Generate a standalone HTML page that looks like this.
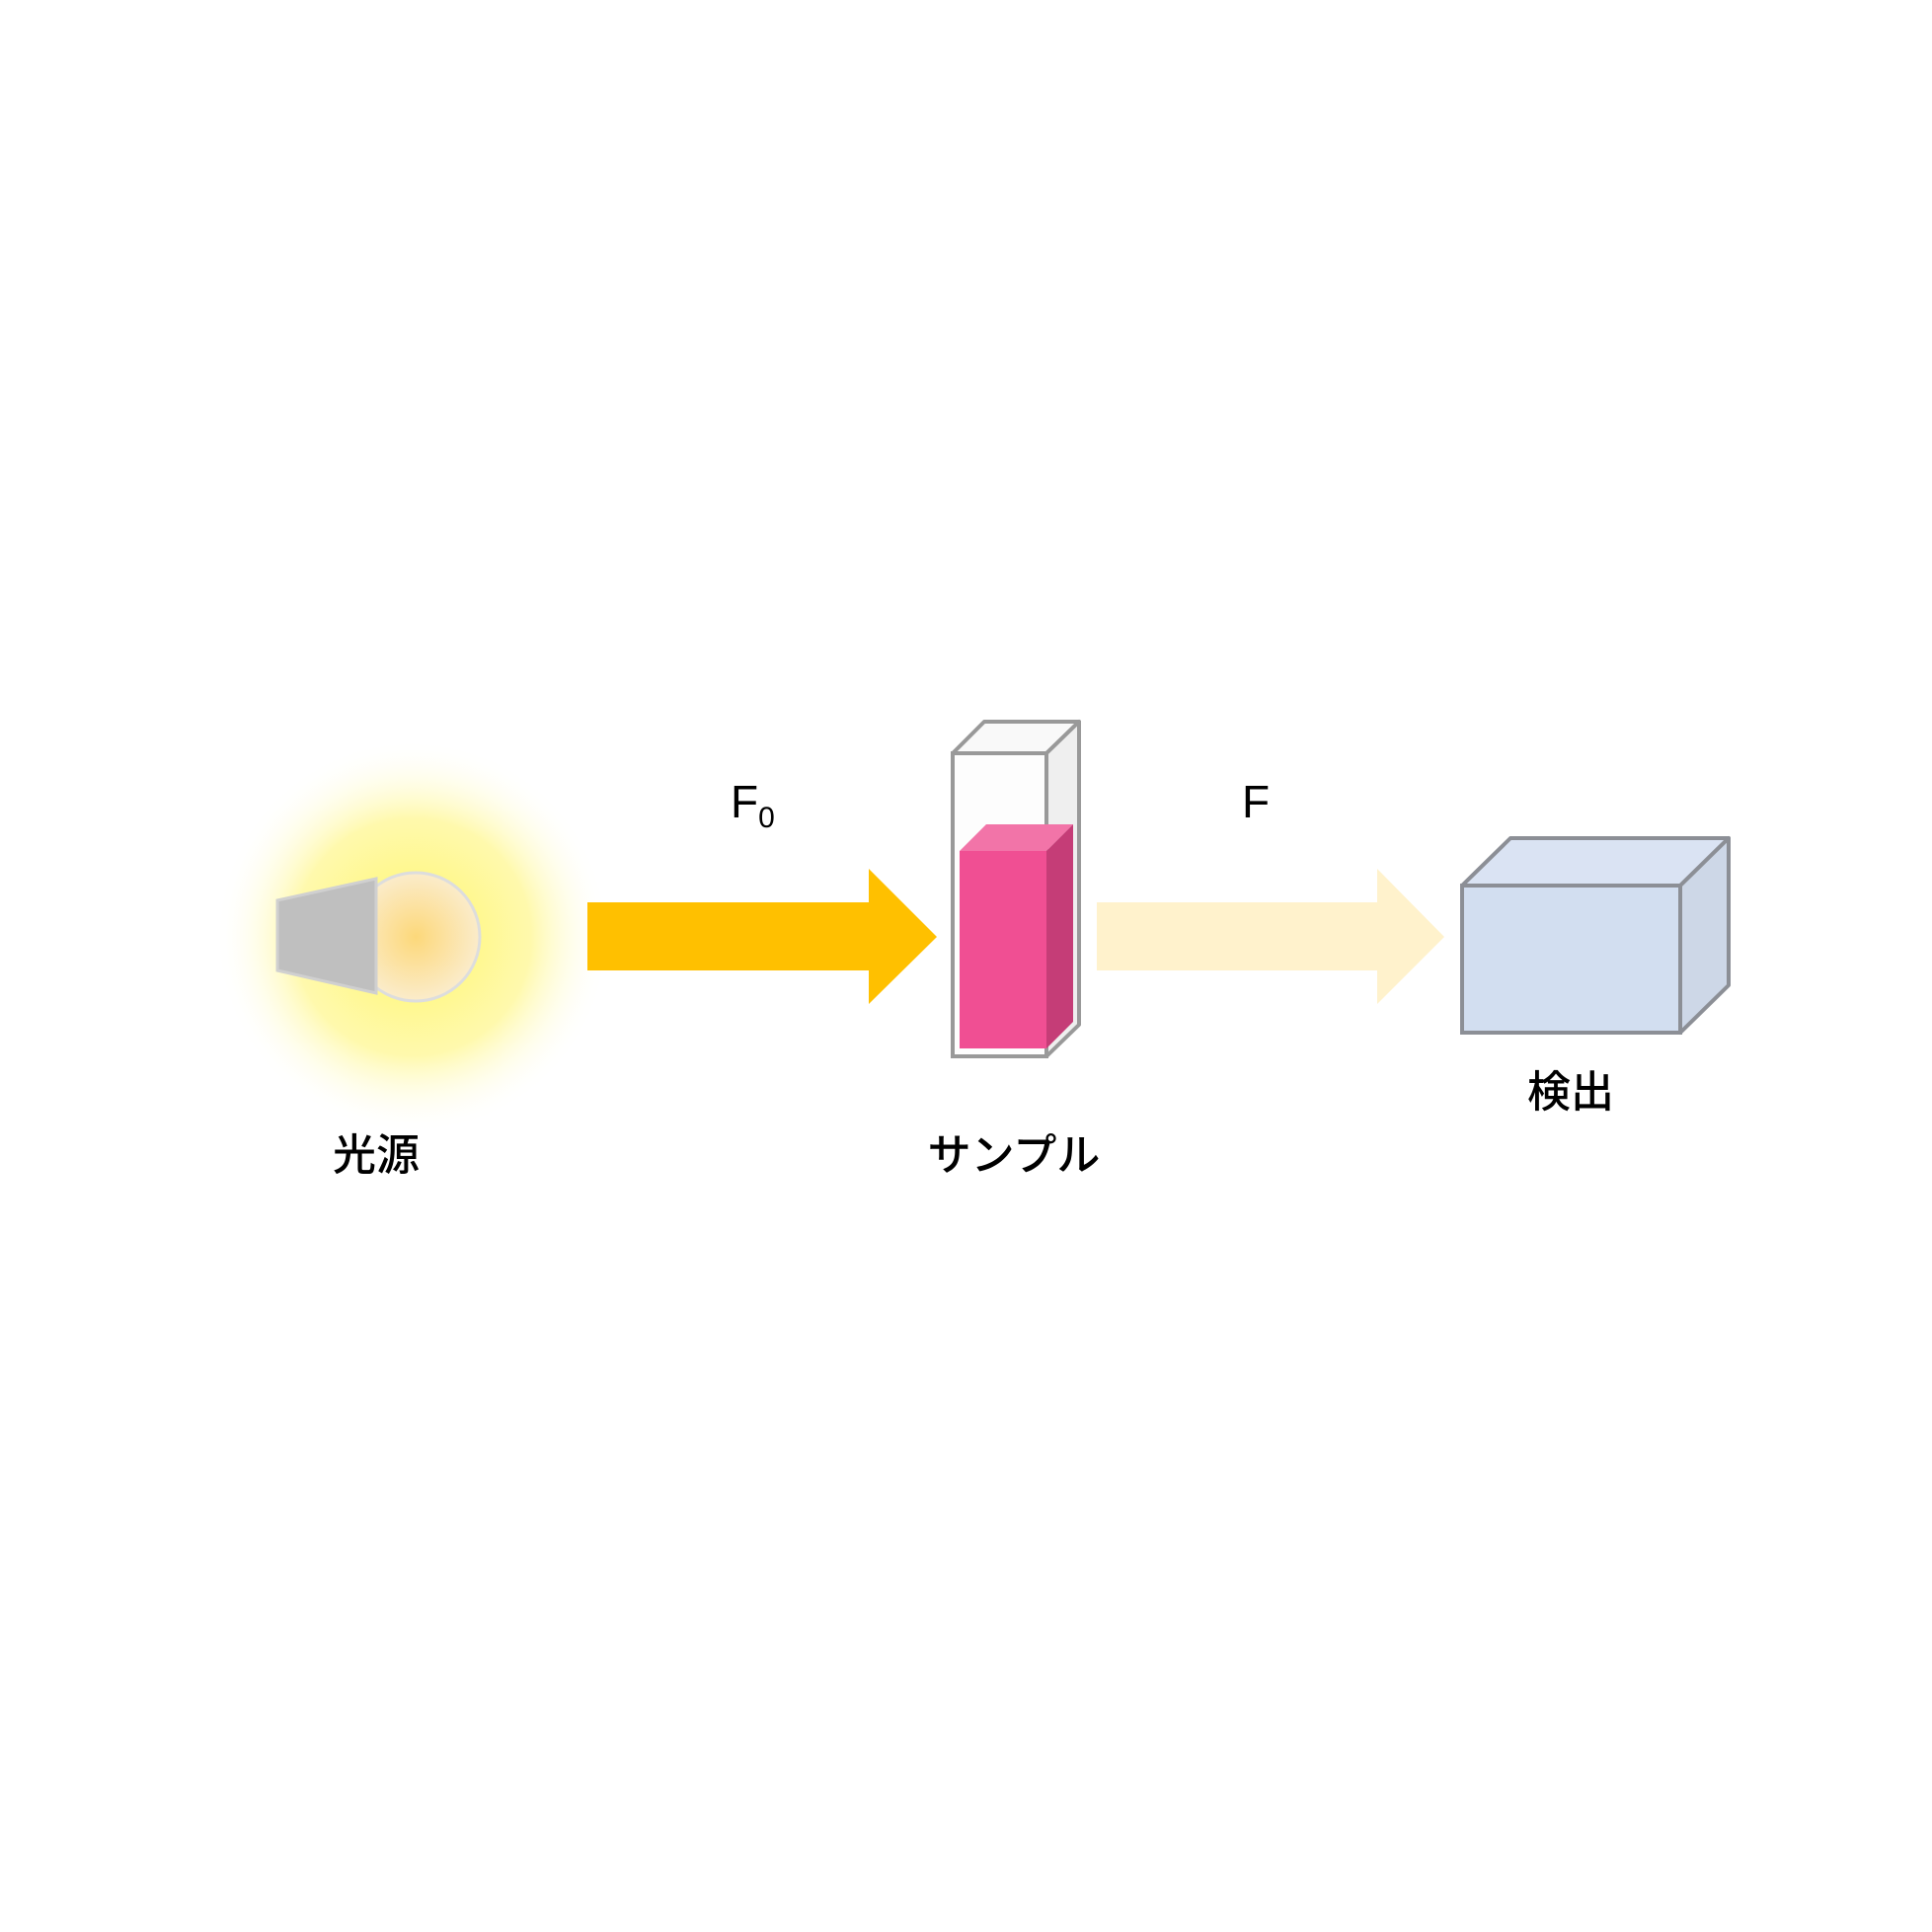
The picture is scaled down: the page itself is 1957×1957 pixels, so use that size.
<!DOCTYPE html>
<html><head><meta charset="utf-8"><style>
html,body{margin:0;padding:0;background:#fff;}
</style></head><body>
<svg width="1957" height="1952" viewBox="0 0 1957 1952" xmlns="http://www.w3.org/2000/svg">
<defs>
<radialGradient id="glow" cx="0.5" cy="0.5" r="0.5">
<stop offset="0" stop-color="#fff200" stop-opacity="0.6"/>
<stop offset="0.6" stop-color="#fff35a" stop-opacity="0.5"/>
<stop offset="1" stop-color="#ffffff" stop-opacity="0"/>
</radialGradient>
<radialGradient id="bulb" cx="0.5" cy="0.5" r="0.5">
<stop offset="0" stop-color="#fcd87a"/>
<stop offset="1" stop-color="#fbeccb"/>
</radialGradient>
</defs>
<circle cx="418" cy="949" r="200" fill="url(#glow)"/>
<circle cx="421" cy="949" r="65" fill="url(#bulb)" stroke="#ddd" stroke-width="3"/>
<polygon points="281,912 381,890 381,1006 281,983" fill="#bfbfbf" stroke="#d0d0d0" stroke-width="3"/>
<polygon points="595,914 880,914 880,880 949,949 880,1017 880,983 595,983" fill="#ffc000"/>
<polygon points="965,763 997,731 1093,731 1060,763" fill="#f9f9f9" stroke="#999" stroke-width="4" stroke-linejoin="round"/>
<polygon points="1060,763 1093,731 1093,1038 1060,1070" fill="#efefef" stroke="#999" stroke-width="4" stroke-linejoin="round"/>
<rect x="965" y="763" width="95" height="307" fill="#fdfdfd" stroke="#999" stroke-width="4"/>
<polygon points="972,862 999,835 1087,835 1060,862" fill="#f274a8"/>
<polygon points="1060,862 1087,835 1087,1035 1060,1062" fill="#c53d77"/>
<rect x="972" y="862" width="88" height="200" fill="#f04f93"/>
<polygon points="1111,914 1395,914 1395,880 1463,949 1395,1017 1395,983 1111,983" fill="#fff2cc"/>
<polygon points="1481,897 1530,849 1751,849 1702,897" fill="#dae3f3" stroke="#8c8f96" stroke-width="4" stroke-linejoin="round"/>
<polygon points="1702,897 1751,849 1751,998 1702,1046" fill="#cdd7e7" stroke="#8c8f96" stroke-width="4" stroke-linejoin="round"/>
<rect x="1481" y="897" width="221" height="149" fill="#d2def0" stroke="#8c8f96" stroke-width="4"/>
<g font-family="Liberation Sans, Noto Sans CJK JP, sans-serif" fill="#000">
<text x="740" y="828" font-size="46">F<tspan font-size="30" dy="10">0</tspan></text>
<text x="1258" y="828" font-size="46">F</text>
<text x="381" y="1185" font-size="44" font-weight="500" text-anchor="middle" font-family="Noto Sans CJK JP, sans-serif">光源</text>
<text x="1027" y="1185" font-size="44" font-weight="500" text-anchor="middle" font-family="Noto Sans CJK JP, sans-serif">サンプル</text>
<text x="1591" y="1121" font-size="44" font-weight="500" text-anchor="middle" font-family="Noto Sans CJK JP, sans-serif">検出</text>
</g>
</svg>
</body></html>
